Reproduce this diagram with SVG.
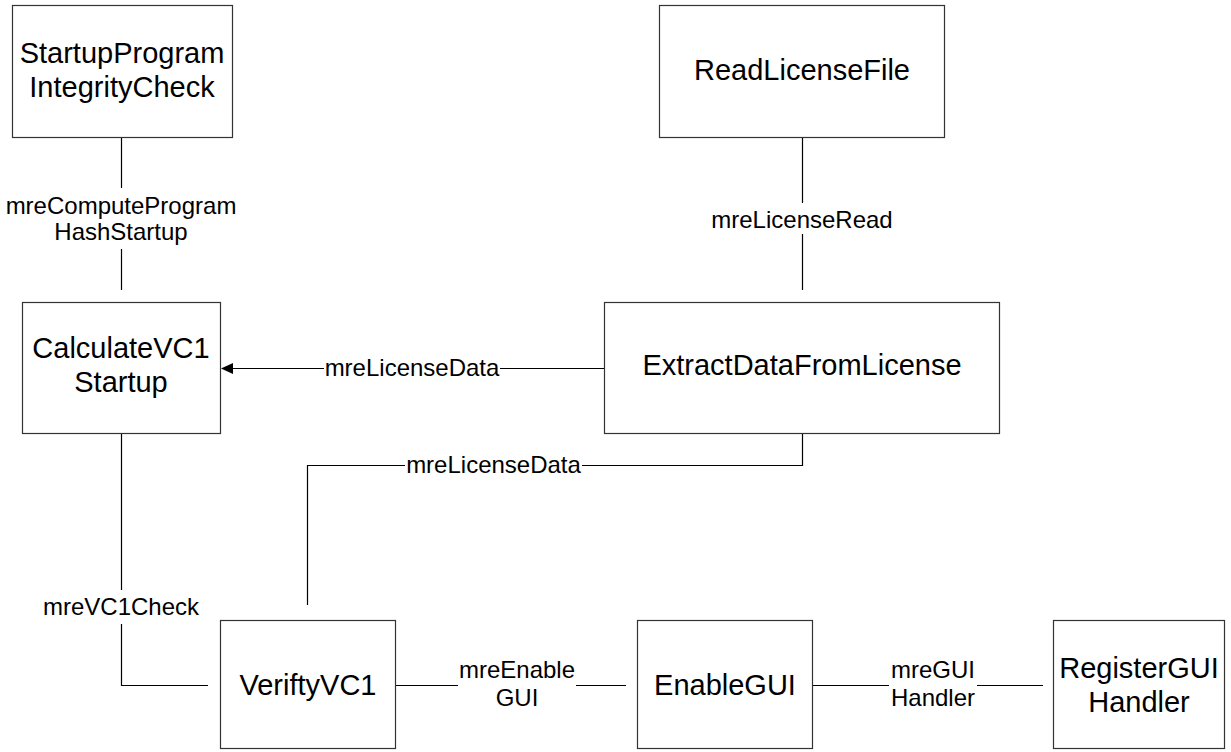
<svg xmlns="http://www.w3.org/2000/svg" width="1231" height="752" viewBox="0 0 1231 752">
<style>
.box{fill:#fff;stroke:#333;stroke-width:1.2}
.nt{font-family:"Liberation Sans",Arial,sans-serif;font-size:29px;fill:#000;text-anchor:middle}
.lt{font-family:"Liberation Sans",Arial,sans-serif;font-size:24px;fill:#000;text-anchor:middle}
.ln{fill:none;stroke:#000;stroke-width:1.2}
</style>
<rect width="1231" height="752" fill="#fff"/>
<g id="connectors">
  <line class="ln" x1="121.5" y1="137" x2="121.5" y2="188"/>
  <line class="ln" x1="121.5" y1="249" x2="121.5" y2="290"/>
  <text class="lt" x="121" y="214">mreComputeProgram</text>
  <text class="lt" x="121" y="240">HashStartup</text>

  <line class="ln" x1="802.5" y1="137" x2="802.5" y2="203"/>
  <line class="ln" x1="802.5" y1="234" x2="802.5" y2="290"/>
  <text class="lt" x="802" y="228">mreLicenseRead</text>

  <line class="ln" x1="604" y1="368.5" x2="500" y2="368.5"/>
  <line class="ln" x1="324" y1="368.5" x2="232" y2="368.5"/>
  <polygon points="221,368.5 233,363 233,374" fill="#000"/>
  <text class="lt" x="412" y="376">mreLicenseData</text>

  <polyline class="ln" points="802.5,433 802.5,465.5 582,465.5"/>
  <polyline class="ln" points="405,465.5 307.5,465.5 307.5,605"/>
  <text class="lt" x="493.5" y="473">mreLicenseData</text>

  <line class="ln" x1="121.5" y1="433" x2="121.5" y2="590"/>
  <polyline class="ln" points="121.5,624 121.5,685.5 208,685.5"/>
  <text class="lt" x="121" y="615">mreVC1Check</text>

  <line class="ln" x1="395" y1="685.5" x2="458" y2="685.5"/>
  <line class="ln" x1="576" y1="685.5" x2="626" y2="685.5"/>
  <text class="lt" x="517" y="678">mreEnable</text>
  <text class="lt" x="517" y="706">GUI</text>

  <line class="ln" x1="813" y1="685.5" x2="889" y2="685.5"/>
  <line class="ln" x1="977" y1="685.5" x2="1043" y2="685.5"/>
  <text class="lt" x="933" y="678">mreGUI</text>
  <text class="lt" x="933" y="706">Handler</text>
</g>
<g id="n_startup">
  <rect class="box" x="12.5" y="5.5" width="220" height="132"/>
  <text class="nt" x="122" y="63">StartupProgram</text>
  <text class="nt" x="122" y="97">IntegrityCheck</text>
</g>
<g id="n_readlicense">
  <rect class="box" x="659.5" y="5.5" width="285" height="132"/>
  <text class="nt" x="802" y="80">ReadLicenseFile</text>
</g>
<g id="n_calc">
  <rect class="box" x="22.5" y="302.5" width="198" height="131"/>
  <text class="nt" x="121" y="358">CalculateVC1</text>
  <text class="nt" x="121" y="392">Startup</text>
</g>
<g id="n_extract">
  <rect class="box" x="604.5" y="302.5" width="395" height="131"/>
  <text class="nt" x="802" y="375">ExtractDataFromLicense</text>
</g>
<g id="n_verify">
  <rect class="box" x="220.5" y="620.5" width="175" height="128"/>
  <text class="nt" x="308" y="695">VeriftyVC1</text>
</g>
<g id="n_enable">
  <rect class="box" x="637.5" y="620.5" width="175" height="128"/>
  <text class="nt" x="725" y="695">EnableGUI</text>
</g>
<g id="n_register">
  <rect class="box" x="1053.5" y="620.5" width="171" height="128"/>
  <text class="nt" x="1139" y="678">RegisterGUI</text>
  <text class="nt" x="1139" y="712">Handler</text>
</g>
</svg>
